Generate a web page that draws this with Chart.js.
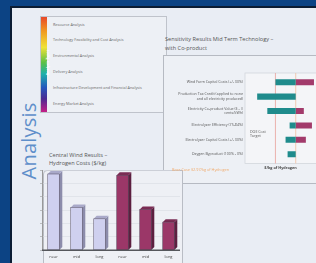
<!DOCTYPE html>
<html><head><meta charset="utf-8">
<script src="https://cdn.jsdelivr.net/npm/chart.js@4.4.0/dist/chart.umd.min.js"></script>
<style>
html,body{margin:0;padding:0;}
body{width:316px;height:263px;overflow:hidden;background:#0c4384;position:relative;font-family:"Open Sans","Liberation Sans",sans-serif;}
#inner{position:absolute;left:10px;top:6px;right:-4px;bottom:-4px;border-left:2px solid #0b1c33;border-top:2px solid #0b1c33;background:#e9edf4;}
.abs{position:absolute;}
#analysis{left:-10px;top:130px;width:78px;height:22px;transform:rotate(-90deg);color:#5f8fca;font-size:20px;line-height:22px;text-align:center;letter-spacing:0.2px;}
#types{left:40px;top:16px;width:125px;height:95px;border:1px solid #bfc3cb;background:#edf0f5;}
#rainbow{left:41px;top:17px;width:6px;height:95px;background:linear-gradient(to bottom,#e8482a 0%,#f09a22 15%,#efe238 32%,#5cc044 48%,#1fb0aa 60%,#2458bd 74%,#4a2a92 86%,#c41e86 100%);}
#rtext{left:12px;top:60px;width:70px;height:5px;transform:rotate(-90deg);color:#fff;font-size:3.5px;line-height:5px;text-align:center;font-weight:bold;}
.item{position:absolute;left:53px;font-size:3.8px;color:#666;white-space:nowrap;}
#sens{left:163px;top:55px;width:160px;height:127px;border-left:1px solid #b6bac2;border-top:1px solid #b6bac2;border-bottom:1px solid #b6bac2;background:#edf0f5;}
.title{position:absolute;font-size:5.6px;color:#555;white-space:nowrap;line-height:10px;}
#barbox{left:43px;top:170px;width:138px;height:100px;border:1px solid #b9bdc5;border-radius:4px 0 0 0;background:#eef0f5;}
#doe{left:250px;top:130px;font-size:3.6px;color:#555;line-height:4px;}
#base{left:172px;top:167px;font-size:3.8px;color:#f0a868;}
</style></head>
<body>
<div id="inner"></div>
<div class="abs" id="analysis">Analysis</div>
<div class="abs" id="types"></div>
<div class="abs" id="rainbow"></div>
<div class="abs" id="rtext">Analysis Types</div>
<div id="items"></div>
<div class="title" style="left:165px;top:34px;">Sensitivity Results Mid Term Technology –</div>
<div class="title" style="left:165px;top:43px;">with Co-product</div>
<div class="abs" id="sens"></div>
<div class="title" style="left:49px;top:150px;">Central Wind Results –</div>
<div class="title" style="left:49px;top:158px;">Hydrogen Costs ($/kg)</div>
<div class="abs" id="barbox"></div>
<canvas id="bars" class="abs" style="left:40px;top:168px;width:145px;height:95px;" width="145" height="95"></canvas>
<canvas id="torn" class="abs" style="left:164px;top:60px;width:152px;height:118px;" width="152" height="118"></canvas>
<div class="abs" id="doe">DOE Cost<br>Target</div>
<div class="abs" id="base">Base Case $2.97/kg of Hydrogen</div>
<script>
// ---- data ----
const analysisItems = ["Resource Analysis","Technology Feasibility and Cost Analysis","Environmental Analysis","Delivery Analysis","Infrastructure Development and Financial Analysis","Energy Market Analysis"];
const itemTops = [22,37,53,69,85,101];

const costCategories = ["near","mid","long","near","mid","long"];
const costValues = [5.7, 3.2, 2.35, 5.6, 3.05, 2.1];
const costColors = ["#cfd0ef","#cfd0ef","#cfd0ef","#9b3768","#9b3768","#9b3768"];
const costSide = ["#8c8cab","#8c8cab","#8c8cab","#5c1f40","#5c1f40","#5c1f40"];
const costTop = ["#a9a9c9","#a9a9c9","#a9a9c9","#7a2c54","#7a2c54","#7a2c54"];
const costTicks = [0,1,2,3,4,5,6];

const sensLabels = [
  ["Wind Farm Capital Costs (+/- 30%)"],
  ["Production Tax Credit (applied to none","and all electricity produced)"],
  ["Electricity Co-product Value ($ - #","cents/kWh)"],
  ["Electrolyzer Efficiency (75-84%)"],
  ["Electrolyzer Capital Costs (+/- 30%)"],
  ["Oxygen Byproduct (100% - 0%)"]
];
const baseCase = 3.0;
const doeTarget = 2.5;
const sensLow = [2.5, 2.05, 2.3, 2.85, 2.75, 2.8];
const sensHigh = [3.45, 3.0, 3.2, 3.4, 3.25, 3.0];

// ---- items ----
const itemsDiv = document.getElementById('items');
analysisItems.forEach((t,i)=>{const d=document.createElement('div');d.className='item';d.style.top=itemTops[i]+'px';d.textContent=t;itemsDiv.appendChild(d);});

// ---- 3D bar plugin ----
const bar3d = {
  id:'bar3d',
  afterDatasetsDraw(chart){
    const ctx=chart.ctx, meta=chart.getDatasetMeta(0), d=3;
    meta.data.forEach((el,i)=>{
      const p=el.getProps(['x','y','base','width'],true);
      const l=p.x-p.width/2, r=p.x+p.width/2;
      ctx.save();
      ctx.fillStyle=costSide[i];
      ctx.beginPath();ctx.moveTo(r,p.y);ctx.lineTo(r+d,p.y-d);ctx.lineTo(r+d,p.base-d);ctx.lineTo(r,p.base);ctx.closePath();ctx.fill();
      ctx.fillStyle=costTop[i];
      ctx.beginPath();ctx.moveTo(l,p.y);ctx.lineTo(l+d,p.y-d);ctx.lineTo(r+d,p.y-d);ctx.lineTo(r,p.y);ctx.closePath();ctx.fill();
      ctx.strokeStyle='rgba(40,30,50,0.6)';ctx.lineWidth=0.6;
      ctx.strokeRect(l,p.y,p.width,p.base-p.y);
      ctx.restore();
    });
    const ca=chart.chartArea;
    ctx.save();ctx.strokeStyle='#55575c';ctx.lineWidth=1.5;
    ctx.beginPath();ctx.moveTo(ca.left,ca.bottom);ctx.lineTo(ca.right,ca.bottom);ctx.stroke();ctx.restore();
  }
};

new Chart(document.getElementById('bars'),{
  type:'bar',
  data:{labels:costCategories,datasets:[{data:costValues,backgroundColor:costColors,barPercentage:0.56,categoryPercentage:0.9}]},
  options:{responsive:false,animation:false,
    layout:{padding:{left:0,right:5,top:2,bottom:0}},
    plugins:{legend:{display:false},tooltip:{enabled:false}},
    scales:{
      x:{grid:{display:false,drawTicks:false,tickLength:0},border:{display:false},ticks:{font:{size:4,family:'Open Sans'},color:'#444',padding:4,maxRotation:0,autoSkip:false}},
      y:{min:0,max:6,afterBuildTicks:(a)=>{a.ticks=costTicks.map(v=>({value:v}));},
         grid:{color:'#d8dbe2',lineWidth:0.6,tickLength:2,tickColor:'#999'},border:{color:'#999',width:1},
         ticks:{display:false}}
    }},
  plugins:[bar3d]
});

// ---- tornado ----
const tornBg = {
  id:'tornBg',
  beforeDatasetsDraw(chart){
    const ctx=chart.ctx, ca=chart.chartArea, xs=chart.scales.x;
    ctx.save();
    ctx.fillStyle='#f4f5f8';ctx.strokeStyle='#d3d6dc';ctx.lineWidth=0.8;
    ctx.fillRect(ca.left,ca.top-2,ca.right-ca.left+10,ca.bottom-ca.top+4);
    ctx.strokeRect(ca.left,ca.top-2,ca.right-ca.left+10,ca.bottom-ca.top+4);
    [doeTarget,baseCase].forEach((v,i)=>{
      const x=xs.getPixelForValue(v);
      ctx.strokeStyle=i===0?'#e7a09a':'#f0c0a0';ctx.lineWidth=0.8;
      ctx.beginPath();ctx.moveTo(x,ca.top-2);ctx.lineTo(x,ca.bottom+2);ctx.stroke();
    });
    ctx.restore();
  }
};

new Chart(document.getElementById('torn'),{
  type:'bar',
  data:{labels:sensLabels,datasets:[
    {data:sensLow.map((v,i)=>[v,baseCase]),backgroundColor:'#1f8b8c',barPercentage:0.42,categoryPercentage:1,grouped:false},
    {data:sensHigh.map((v,i)=>v>baseCase?[baseCase,v]:null),backgroundColor:'#a23a6b',barPercentage:0.42,categoryPercentage:1,grouped:false}
  ]},
  options:{indexAxis:'y',responsive:false,animation:false,
    layout:{padding:{left:0,right:0,top:15,bottom:8}},
    plugins:{legend:{display:false},tooltip:{enabled:false}},
    scales:{
      x:{min:1.75,max:3.5,grid:{display:false,drawTicks:false,tickLength:0},border:{display:false},ticks:{display:false},
         title:{display:true,text:'$/kg of Hydrogen',font:{size:3.8,family:'Open Sans',weight:'bold'},color:'#444',padding:{top:4,bottom:0}}},
      y:{grid:{display:false,drawTicks:false,tickLength:0},border:{display:false},
         ticks:{font:{size:3.6,family:'Open Sans'},color:'#555',padding:2},afterFit:(s)=>{s.width=81;}}
    }},
  plugins:[tornBg]
});
</script>
</body></html>
